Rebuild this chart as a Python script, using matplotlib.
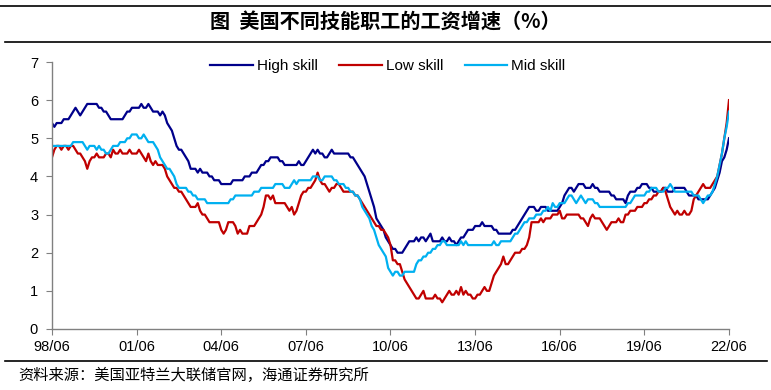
import numpy as np
import matplotlib
matplotlib.use('Agg')
import matplotlib.pyplot as plt
from matplotlib.lines import Line2D

plt.rcParams['font.family'] = ['Liberation Sans', 'Noto Sans CJK SC', 'DejaVu Sans']

# monthly wage growth, Jun 1998 .. Jun 2022 (one row = Jun..May)
high_skill = [
    5.4, 5.3, 5.4, 5.4, 5.4, 5.5, 5.5, 5.5, 5.6, 5.7, 5.8, 5.7,
    5.6, 5.7, 5.8, 5.9, 5.9, 5.9, 5.9, 5.9, 5.8, 5.8, 5.7, 5.7,
    5.6, 5.5, 5.5, 5.5, 5.5, 5.5, 5.5, 5.6, 5.7, 5.7, 5.8, 5.8,
    5.8, 5.8, 5.9, 5.8, 5.8, 5.9, 5.8, 5.7, 5.7, 5.7, 5.6, 5.7,
    5.6, 5.4, 5.3, 5.2, 5.0, 4.8, 4.7, 4.7, 4.6, 4.5, 4.4, 4.2,
    4.2, 4.2, 4.1, 4.2, 4.1, 4.1, 4.1, 4.0, 4.0, 3.9, 3.9, 3.9,
    3.8, 3.8, 3.8, 3.8, 3.8, 3.9, 3.9, 3.9, 3.9, 3.9, 4.0, 4.0,
    4.0, 4.1, 4.1, 4.1, 4.2, 4.3, 4.3, 4.4, 4.4, 4.5, 4.5, 4.5,
    4.5, 4.4, 4.4, 4.3, 4.3, 4.3, 4.3, 4.3, 4.3, 4.4, 4.3, 4.3,
    4.4, 4.5, 4.6, 4.7, 4.6, 4.7, 4.6, 4.6, 4.5, 4.5, 4.6, 4.7,
    4.6, 4.6, 4.6, 4.6, 4.6, 4.6, 4.6, 4.5, 4.5, 4.4, 4.3, 4.2,
    4.1, 4.0, 3.8, 3.6, 3.4, 3.2, 2.9, 2.8, 2.7, 2.6, 2.4, 2.3,
    2.2, 2.1, 2.1, 2.0, 2.0, 2.0, 2.1, 2.2, 2.3, 2.3, 2.3, 2.4,
    2.3, 2.4, 2.4, 2.3, 2.4, 2.5, 2.3, 2.3, 2.3, 2.3, 2.4, 2.3,
    2.3, 2.4, 2.3, 2.3, 2.2, 2.3, 2.4, 2.4, 2.5, 2.6, 2.6, 2.6,
    2.7, 2.7, 2.7, 2.8, 2.7, 2.7, 2.7, 2.7, 2.6, 2.6, 2.5, 2.5,
    2.5, 2.5, 2.5, 2.5, 2.6, 2.6, 2.7, 2.8, 2.9, 3.0, 3.1, 3.2,
    3.2, 3.2, 3.1, 3.1, 3.2, 3.2, 3.2, 3.1, 3.1, 3.1, 3.1, 3.1,
    3.2, 3.3, 3.5, 3.6, 3.7, 3.7, 3.6, 3.7, 3.8, 3.8, 3.8, 3.7,
    3.7, 3.7, 3.8, 3.7, 3.7, 3.6, 3.6, 3.6, 3.6, 3.6, 3.5, 3.5,
    3.4, 3.4, 3.4, 3.4, 3.3, 3.5, 3.6, 3.6, 3.6, 3.7, 3.7, 3.8,
    3.8, 3.8, 3.7, 3.7, 3.6, 3.6, 3.6, 3.6, 3.7, 3.7, 3.6, 3.6,
    3.6, 3.7, 3.7, 3.7, 3.7, 3.7, 3.6, 3.5, 3.5, 3.5, 3.5, 3.4,
    3.4, 3.4, 3.4, 3.4, 3.5, 3.6, 3.7, 3.9, 4.1, 4.4, 4.5, 4.7,
    5.0,
]

low_skill = [
    4.5, 4.7, 4.8, 4.8, 4.7, 4.8, 4.8, 4.7, 4.8, 4.8, 4.7, 4.6,
    4.6, 4.5, 4.4, 4.2, 4.4, 4.5, 4.5, 4.6, 4.5, 4.5, 4.5, 4.6,
    4.6, 4.5, 4.7, 4.6, 4.6, 4.7, 4.6, 4.6, 4.6, 4.7, 4.6, 4.6,
    4.6, 4.7, 4.6, 4.5, 4.4, 4.6, 4.4, 4.3, 4.4, 4.3, 4.3, 4.3,
    4.2, 4.0, 3.9, 3.8, 3.7, 3.7, 3.6, 3.6, 3.5, 3.4, 3.3, 3.2,
    3.2, 3.2, 3.3, 3.1, 3.0, 3.0, 2.9, 2.8, 2.8, 2.8, 2.8, 2.8,
    2.6, 2.5, 2.6, 2.8, 2.8, 2.8, 2.7, 2.5, 2.6, 2.5, 2.5, 2.5,
    2.7, 2.7, 2.7, 2.8, 2.9, 3.0, 3.2, 3.5, 3.5, 3.4, 3.5, 3.3,
    3.3, 3.3, 3.3, 3.3, 3.2, 3.1, 3.2, 3.0, 3.1, 3.3, 3.5, 3.6,
    3.6, 3.7, 3.7, 3.8, 3.9, 4.1, 3.9, 3.8, 3.8, 3.7, 3.6, 3.7,
    3.7, 3.8, 3.8, 3.7, 3.6, 3.6, 3.6, 3.6, 3.6, 3.5, 3.5, 3.4,
    3.3, 3.2, 3.1, 3.0, 2.9, 2.8, 2.7, 2.7, 2.6, 2.6, 2.5, 2.4,
    2.2, 1.8, 1.8, 1.7, 1.7, 1.5, 1.3, 1.2, 1.1, 1.0, 0.9, 0.8,
    0.8, 0.9, 1.0, 0.8, 0.8, 0.8, 0.8, 0.9, 0.8, 0.8, 0.7, 0.8,
    0.9, 1.0, 0.9, 0.9, 1.0, 0.9, 1.1, 0.9, 1.0, 0.9, 0.9, 0.8,
    0.8, 0.9, 0.9, 1.0, 1.1, 1.0, 1.0, 1.2, 1.4, 1.5, 1.6, 1.7,
    1.9, 1.7, 1.7, 1.8, 1.9, 2.0, 2.0, 2.0, 2.1, 2.1, 2.2, 2.4,
    2.8, 2.8, 2.8, 2.8, 2.9, 2.8, 2.9, 2.9, 2.9, 3.0, 3.0, 3.0,
    3.1, 2.9, 2.9, 3.0, 3.0, 3.0, 3.0, 3.0, 3.0, 2.9, 2.9, 2.8,
    2.7, 2.9, 3.0, 2.9, 2.9, 2.9, 2.8, 2.7, 2.6, 2.7, 2.8, 2.8,
    2.8, 2.9, 2.8, 2.8, 3.0, 3.0, 3.1, 3.1, 3.1, 3.2, 3.2, 3.2,
    3.3, 3.3, 3.4, 3.4, 3.5, 3.5, 3.6, 3.6, 3.7, 3.6, 3.4, 3.2,
    3.1, 3.0, 3.1, 3.0, 3.0, 3.1, 3.0, 3.0, 3.1, 3.4, 3.5, 3.6,
    3.7, 3.8, 3.7, 3.7, 3.7, 3.8, 3.9, 4.0, 4.3, 4.6, 5.0, 5.4,
    6.0,
]

mid_skill = [
    4.8, 4.8, 4.8, 4.8, 4.8, 4.8, 4.8, 4.8, 4.8, 4.9, 4.9, 4.9,
    4.9, 4.9, 4.8, 4.7, 4.8, 4.8, 4.8, 4.7, 4.8, 4.7, 4.7, 4.6,
    4.6, 4.7, 4.8, 4.8, 4.8, 4.9, 4.9, 4.9, 5.0, 5.0, 5.1, 5.1,
    5.1, 5.0, 5.0, 5.1, 5.0, 4.9, 4.9, 4.9, 4.8, 4.7, 4.5, 4.4,
    4.3, 4.2, 4.2, 4.1, 4.0, 3.8, 3.7, 3.7, 3.7, 3.7, 3.6, 3.6,
    3.5, 3.5, 3.4, 3.4, 3.4, 3.4, 3.3, 3.3, 3.3, 3.3, 3.3, 3.3,
    3.3, 3.3, 3.3, 3.3, 3.4, 3.4, 3.5, 3.5, 3.5, 3.5, 3.5, 3.5,
    3.5, 3.5, 3.6, 3.6, 3.6, 3.7, 3.7, 3.7, 3.7, 3.7, 3.7, 3.8,
    3.8, 3.8, 3.8, 3.7, 3.7, 3.7, 3.8, 3.9, 3.8, 3.9, 3.9, 3.9,
    3.9, 3.9, 3.9, 4.0, 4.0, 4.0, 3.9, 3.9, 4.0, 4.0, 4.0, 4.0,
    3.9, 3.9, 3.8, 3.8, 3.8, 3.7, 3.7, 3.6, 3.6, 3.5, 3.5, 3.4,
    3.2, 3.1, 3.0, 2.9, 2.7, 2.6, 2.4, 2.2, 2.1, 2.0, 1.9, 1.6,
    1.5, 1.4, 1.5, 1.5, 1.4, 1.4, 1.5, 1.5, 1.5, 1.5, 1.5, 1.7,
    1.8, 1.8, 1.9, 1.9, 2.0, 2.0, 2.1, 2.1, 2.2, 2.2, 2.3, 2.3,
    2.2, 2.2, 2.2, 2.2, 2.2, 2.2, 2.3, 2.2, 2.3, 2.2, 2.2, 2.2,
    2.2, 2.2, 2.2, 2.2, 2.2, 2.2, 2.2, 2.2, 2.3, 2.2, 2.2, 2.3,
    2.3, 2.3, 2.3, 2.3, 2.4, 2.5, 2.5, 2.6, 2.7, 2.8, 2.8, 2.9,
    2.9, 2.9, 3.0, 3.0, 3.0, 3.1, 3.1, 3.2, 3.1, 3.3, 3.2, 3.2,
    3.3, 3.3, 3.3, 3.4, 3.5, 3.5, 3.4, 3.3, 3.4, 3.5, 3.4, 3.3,
    3.4, 3.4, 3.4, 3.3, 3.3, 3.2, 3.2, 3.2, 3.2, 3.2, 3.2, 3.2,
    3.2, 3.2, 3.2, 3.2, 3.2, 3.3, 3.3, 3.4, 3.5, 3.5, 3.5, 3.5,
    3.5, 3.6, 3.6, 3.7, 3.7, 3.7, 3.6, 3.6, 3.6, 3.7, 3.7, 3.8,
    3.7, 3.6, 3.6, 3.6, 3.6, 3.6, 3.6, 3.6, 3.6, 3.5, 3.5, 3.5,
    3.4, 3.3, 3.4, 3.5, 3.5, 3.6, 3.8, 4.0, 4.3, 4.6, 5.0, 5.3,
    5.7,
]

tick_labels = ['98/06', '01/06', '04/06', '07/06', '10/06',
               '13/06', '16/06', '19/06', '22/06']

x = np.arange(len(high_skill))

fig = plt.figure(figsize=(7.71, 3.9), dpi=100)
ax = fig.add_axes([52 / 771, 1 - 329 / 390, 677 / 771, 267 / 390])

ax.plot(x, high_skill, color='#00008B', lw=1.6, label='High skill')
ax.plot(x, low_skill, color='#C00000', lw=1.6, label='Low skill')
ax.plot(x, mid_skill, color='#00B0F0', lw=1.6, label='Mid skill')

ax.set_xlim(0, len(x) - 1)
ax.set_ylim(0, 7)
ax.set_xticks(np.arange(0, len(x), 36))
ax.set_xticklabels(tick_labels)
ax.set_yticks(range(8))

for s in ['top', 'right']:
    ax.spines[s].set_visible(False)
for s in ['left', 'bottom']:
    ax.spines[s].set_color('#808080')
    ax.spines[s].set_linewidth(1.0)
ax.tick_params(axis='both', direction='out', length=4, color='#808080',
               labelsize=10.5, labelcolor='black')
ax.tick_params(axis='x', pad=4)
ax.tick_params(axis='y', pad=6)

ax.legend(loc='center', bbox_to_anchor=(0.496, 0.985), ncol=3, frameon=False,
          fontsize=11, handlelength=2.8, handletextpad=0.25, columnspacing=1.4)

# header and footer
fig.add_artist(Line2D([0.0, 1.0], [1 - 6 / 390] * 2, color='black', lw=1.2))
fig.add_artist(Line2D([0.007, 1.0], [1 - 42 / 390] * 2, color='black', lw=1.2))
fig.add_artist(Line2D([0.007, 0.995], [1 - 361 / 390] * 2, color='black', lw=1.2))

fig.text(0.5, 1 - 22 / 390, '图  美国不同技能职工的工资增速（%）',
         ha='center', va='center', fontsize=14.5, fontweight='bold',
         family=['Noto Sans CJK SC', 'DejaVu Sans'])
fig.text(18 / 771, 1 - 375 / 390, '资料来源：美国亚特兰大联储官网，海通证券研究所',
         ha='left', va='center', fontsize=11,
         family=['Noto Sans CJK SC', 'DejaVu Sans'])

fig.savefig('out.png', dpi=100)
